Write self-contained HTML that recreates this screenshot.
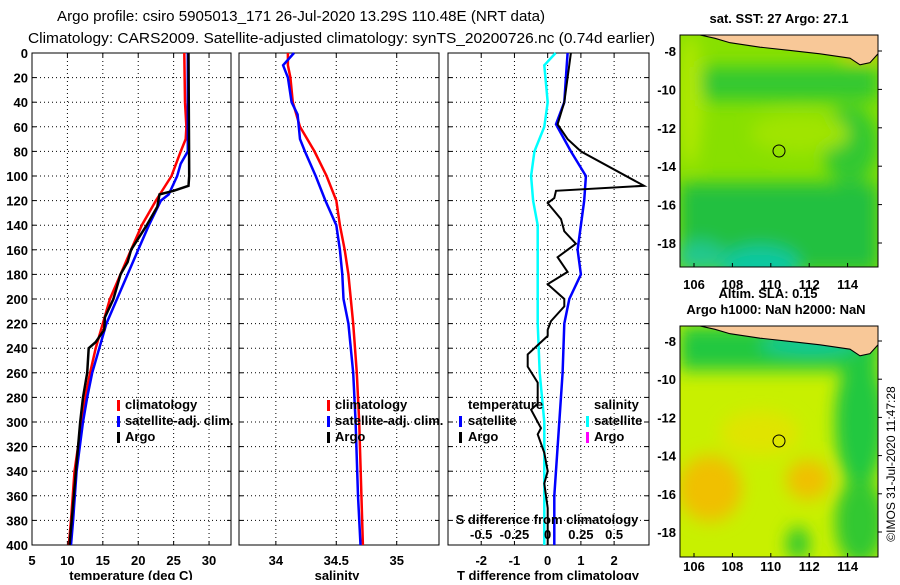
<!DOCTYPE html>
<html><head><meta charset="utf-8"><style>
body{margin:0;background:#fff;}
svg text{font-family:"Liberation Sans",sans-serif;}
</style></head><body>
<svg id="chart" width="900" height="580" xmlns="http://www.w3.org/2000/svg">
<defs>
<filter id="blur8" x="-20%" y="-20%" width="140%" height="140%"><feGaussianBlur stdDeviation="8"/></filter>
<clipPath id="clipTop"><rect x="680" y="35" width="198" height="232"/></clipPath>
<clipPath id="clipBot"><rect x="680" y="326" width="198" height="231"/></clipPath>
</defs>
<text x="57" y="21" font-size="15" textLength="488" lengthAdjust="spacingAndGlyphs">Argo profile: csiro 5905013_171 26-Jul-2020 13.29S 110.48E (NRT data)</text>
<text x="28" y="43" font-size="15" textLength="627" lengthAdjust="spacingAndGlyphs">Climatology: CARS2009. Satellite-adjusted climatology: synTS_20200726.nc (0.74d earlier)</text>
<g id="panels"></g>
<g id="maps">
  <text x="779" y="23" font-size="13" font-weight="bold" text-anchor="middle">sat. SST: 27 Argo: 27.1</text>
  <g clip-path="url(#clipTop)">
   <g transform="translate(0,35) scale(1,1.105) translate(0,-31)">
    <rect x="680" y="31" width="198" height="210" fill="#88e000"/>
    <g filter="url(#blur8)">
      <rect x="680" y="60" width="198" height="30" fill="#30c830"/>
      <rect x="680" y="165" width="198" height="80" fill="#22c040"/>
      <ellipse cx="760" cy="240" rx="40" ry="18" fill="#10c8a0"/>
      <ellipse cx="700" cy="232" rx="25" ry="14" fill="#20c890"/>
      <ellipse cx="850" cy="130" rx="28" ry="35" fill="#30c830"/>
      <ellipse cx="690" cy="90" rx="12" ry="60" fill="#b0e800"/>
      <ellipse cx="800" cy="120" rx="50" ry="18" fill="#a0e400"/>
      <rect x="845" y="31" width="35" height="20" fill="#f0c000"/>
    </g>
    <path d="M700,31 L715,34 L730,38 L760,42 L790,45 L820,48 L850,52 L860,58 L870,56 L878,48 L878,31 Z" fill="#f8c898" stroke="#000" stroke-width="1"/>
   </g>
    <circle cx="779" cy="151" r="6" fill="none" stroke="#000"/>
  </g>
  <rect x="680" y="35" width="198" height="232" fill="none" stroke="#000"/>
  <text x="768" y="298" font-size="13" font-weight="bold" text-anchor="middle">Altim. SLA: 0.15</text>
  <text x="776" y="314" font-size="13" font-weight="bold" text-anchor="middle">Argo h1000: NaN h2000: NaN</text>
  <g clip-path="url(#clipBot)">
   <g transform="translate(0,326) scale(1,1.105) translate(0,-293)">
    <rect x="680" y="293" width="198" height="209" fill="#c8f000"/>
    <g filter="url(#blur8)">
      <rect x="680" y="293" width="198" height="40" fill="#20c840"/>
      <ellipse cx="860" cy="380" rx="25" ry="60" fill="#20c840"/>
      <ellipse cx="860" cy="470" rx="25" ry="40" fill="#30c830"/>
      <ellipse cx="710" cy="440" rx="32" ry="30" fill="#f0c000"/>
      <ellipse cx="808" cy="432" rx="22" ry="18" fill="#f0c000"/>
      <ellipse cx="798" cy="490" rx="12" ry="15" fill="#30c830"/>
      <ellipse cx="760" cy="390" rx="40" ry="20" fill="#e0e400"/>
      <ellipse cx="810" cy="310" rx="50" ry="8" fill="#10c8a0"/>
    </g>
    <path d="M700,293 L715,296 L730,300 L760,304 L790,307 L820,310 L850,314 L860,320 L870,318 L878,310 L878,293 Z" fill="#f8c898" stroke="#000" stroke-width="1"/>
   </g>
    <circle cx="779" cy="441" r="6" fill="none" stroke="#000"/>
  </g>
  <rect x="680" y="326" width="198" height="231" fill="none" stroke="#000"/>
  <g id="mapticks"></g>
  <text transform="translate(895,464) rotate(-90)" font-size="12" text-anchor="middle">©IMOS 31-Jul-2020 11:47:28</text>
</g>
</svg>
<script>
// ---- data ----
const depthTicks=[0,20,40,60,80,100,120,140,160,180,200,220,240,260,280,300,320,340,360,380,400];
const tempTicks=[5,10,15,20,25,30];
const salTicks=[34,34.5,35];
const dTTicks=[-2,-1,0,1,2];
const dSTicks=[-0.5,-0.25,0,0.25,0.5];
const dSLabels=["-0.5","-0.25","0","0.25","0.5"];
const tClimDepth=[0,40,60,70,80,100,120,140,160,180,200,220,240,260,280,300,340,380,400];
const tClimVal=[26.5,26.6,26.8,26.7,26.0,24.7,22.5,20.5,19.0,17.5,16.0,15.0,14.0,13.2,12.5,12.0,11.0,10.5,10.2];
const tSatDepth=[0,80,90,100,115,120,140,160,180,200,220,240,260,280,300,340,380,400];
const tSatVal=[27.0,27.0,26.0,25.5,24.3,23.2,21.5,20.0,18.5,17.0,15.5,14.5,13.5,12.8,12.2,11.3,10.8,10.5];
const tArgoDepth=[0,100,108,112,115,125,140,160,170,180,190,200,215,225,235,240,260,280,300,340,380,400];
const tArgoVal=[27.1,27.2,27.1,25.0,23.0,22.7,21.2,19.0,18.5,17.5,17.0,16.5,15.3,15.2,14.0,13.0,12.8,12.2,11.8,11.2,10.6,10.3];
const sClimDepth=[0,10,20,40,60,80,100,120,140,160,180,200,220,260,300,400];
const sClimVal=[34.1,34.1,34.12,34.14,34.2,34.32,34.42,34.5,34.53,34.57,34.6,34.62,34.64,34.67,34.69,34.72];
const sSatDepth=[0,10,20,40,50,70,80,100,120,140,160,180,200,220,260,300,360,400];
const sSatVal=[34.15,34.06,34.1,34.13,34.18,34.2,34.24,34.33,34.41,34.5,34.53,34.55,34.56,34.6,34.64,34.66,34.68,34.7];
const dTSatDepth=[0,20,40,58,80,100,120,140,160,180,200,220,260,300,360,400];
const dTSatVal=[0.6,0.55,0.5,0.25,0.7,1.15,1.1,1.0,0.9,1.0,0.65,0.5,0.45,0.35,0.2,0.2];
const dTArgoDepth=[0,40,58,70,80,108,112,118,122,135,145,155,166,178,188,200,206,218,225,230,245,255,268,285,290,305,310,325,340,350,370,400];
const dTArgoVal=[0.7,0.5,0.3,0.6,1.0,2.9,0.25,0.2,0,0.4,0.5,0.85,0.3,0.6,0,0.5,0.5,0.1,0,0,-0.6,-0.6,-0.3,-0.3,-0.5,-0.2,-0.3,-0.1,0,-0.1,0,0];
const dSSatDepth=[0,10,40,60,80,100,120,140,180,220,260,300,400];
const dSSatVal=[0.06,-0.025,0,-0.025,-0.1,-0.125,-0.11,-0.075,-0.075,-0.075,-0.06,-0.025,-0.025];
const mapLon=[106,108,110,112,114];
const mapLat=[-8,-10,-12,-14,-16,-18];

const NS="http://www.w3.org/2000/svg";
const root=document.getElementById('panels');
function el(tag,attrs,parent){const e=document.createElementNS(NS,tag);for(const k in attrs)e.setAttribute(k,attrs[k]);(parent||root).appendChild(e);return e;}
const Y0=53,Y1=545;
const yS=d=>Y0+(d/400)*(Y1-Y0);
const P1={x0:32,x1:231,min:5,max:33.1};
const P2={x0:239,x1:439,min:33.695,max:35.35};
const P3={x0:448,x1:649,min:-3,max:3.05};
function xf(P){return v=>P.x0+(v-P.min)/(P.max-P.min)*(P.x1-P.x0);}
const x1=xf(P1),x2=xf(P2),x3=xf(P3);
const xS3=v=>x3(v*4);

function frame(P,name,xticks,xfun,labels,showY){
  const g=el('g',{});
  
  
  depthTicks.forEach(d=>{
    if(d>0&&d<400){const l=el('line',{x1:P.x0,x2:P.x1,y1:yS(d),y2:yS(d),stroke:'#000','stroke-dasharray':'1,3'},g);
    }
    el('line',{x1:P.x0,x2:P.x0+4,y1:yS(d),y2:yS(d),stroke:'#000'},g);
    el('line',{x1:P.x1,x2:P.x1-4,y1:yS(d),y2:yS(d),stroke:'#000'},g);
    if(showY){const t=el('text',{x:P.x0-4,y:yS(d)+5,'font-size':13,'font-weight':'bold','text-anchor':'end'},g);t.textContent=d;
    }
  });
  xticks.forEach((v,i)=>{
    const X=xfun(v);
    if(X>P.x0+1&&X<P.x1-1){const l=el('line',{x1:X,x2:X,y1:Y0,y2:Y1,stroke:'#000','stroke-dasharray':'1,3'},g);
    }
    el('line',{x1:X,x2:X,y1:Y0,y2:Y0+4,stroke:'#000'},g);
    el('line',{x1:X,x2:X,y1:Y1,y2:Y1-4,stroke:'#000'},g);
    const t=el('text',{x:X,y:565,'font-size':13,'font-weight':'bold','text-anchor':'middle'},g);t.textContent=labels?labels[i]:v;
    
  });
  el('rect',{x:P.x0,y:Y0,width:P.x1-P.x0,height:Y1-Y0,fill:'none',stroke:'#000'},g);
  return g;
}
function line(depths,vals,xfun,color,w,name,g){
  const pts=depths.map((d,i)=>xfun(vals[i]).toFixed(1)+','+yS(d).toFixed(1)).join(' ');
  const p=el('polyline',{points:pts,fill:'none',stroke:color,'stroke-width':w},g);
  
  
}
function txt(x,y,s,name,g,opt){const t=el('text',Object.assign({x:x,y:y,'font-size':13,'font-weight':'bold'},opt||{}),g);t.textContent=s;
  return t;}
function mark(x,y,c,g){const r=el('rect',{x:x,y:y-10,width:3,height:11,fill:c},g);
  }

// panel 1
const g1=frame(P1,'temperature-panel',tempTicks,x1,null,true);
line(tClimDepth,tClimVal,x1,'#f00',2.5,'temp-climatology-line',g1);
line(tSatDepth,tSatVal,x1,'#00f',2.5,'temp-satellite-line',g1);
line(tArgoDepth,tArgoVal,x1,'#000',2.5,'temp-argo-line',g1);
txt(131,580,'temperature (deg C)','x-axis-title',g1,{'text-anchor':'middle','font-size':13});
mark(117,410,'#f00',g1);txt(125,409,'climatology','legend-climatology',g1);
mark(117,426,'#00f',g1);txt(125,425,'satellite-adj. clim.','legend-satellite',g1);
mark(117,442,'#000',g1);txt(125,441,'Argo','legend-argo',g1);

// panel 2
const g2=frame(P2,'salinity-panel',salTicks,x2,null,false);
line(sClimDepth,sClimVal,x2,'#f00',2.5,'sal-climatology-line',g2);
line(sSatDepth,sSatVal,x2,'#00f',2.5,'sal-satellite-line',g2);
txt(337,580,'salinity','x-axis-title',g2,{'text-anchor':'middle'});
mark(327,410,'#f00',g2);txt(335,409,'climatology','legend-climatology',g2);
mark(327,426,'#00f',g2);txt(335,425,'satellite-adj. clim.','legend-satellite',g2);
mark(327,442,'#000',g2);txt(335,441,'Argo','legend-argo',g2);

// panel 3
const g3=frame(P3,'difference-panel',dTTicks,x3,null,false);
line(dSSatDepth,dSSatVal,xS3,'#0ff',2.5,'sal-diff-satellite-line',g3);
line(dTSatDepth,dTSatVal,x3,'#00f',2.5,'temp-diff-satellite-line',g3);
line(dTArgoDepth,dTArgoVal,x3,'#000',2,'temp-diff-argo-line',g3);
dSTicks.forEach((v,i)=>txt(xS3(v),539,dSLabels[i],'s-tick-label',g3,{'text-anchor':'middle'}));
txt(547,524,'S difference from climatology','s-axis-title',g3,{'text-anchor':'middle'});
txt(548,580,'T difference from climatology','x-axis-title',g3,{'text-anchor':'middle'});
txt(468,409,'temperature','legend-temperature-header',g3);
mark(459,426,'#00f',g3);txt(468,425,'satellite','legend-t-satellite',g3);
mark(459,442,'#000',g3);txt(468,441,'Argo','legend-t-argo',g3);
txt(594,409,'salinity','legend-salinity-header',g3);
mark(586,426,'#0ff',g3);txt(594,425,'satellite','legend-s-satellite',g3);
mark(586,442,'#f0f',g3);txt(594,441,'Argo','legend-s-argo',g3);

// map ticks
const mt=document.getElementById('mapticks');
const lonX=v=>694+(v-106)*19.2;
[[267,51,243,289],[557,341,532,571]].forEach(m=>{
  mapLon.forEach(v=>{
    el('line',{x1:lonX(v),x2:lonX(v),y1:m[0],y2:m[0]-4,stroke:'#000'},mt);
    txt(lonX(v),m[3],String(v),'map-lon-label',mt,{'text-anchor':'middle'});
  });
  mapLat.forEach(v=>{
    const Y=m[1]+(-8-v)/10*(m[2]-m[1]);
    el('line',{x1:878,x2:882,y1:Y,y2:Y,stroke:'#000'},mt);
    txt(676,Y+5,String(v),'map-lat-label',mt,{'text-anchor':'end'});
  });
});
</script>
</body></html>
